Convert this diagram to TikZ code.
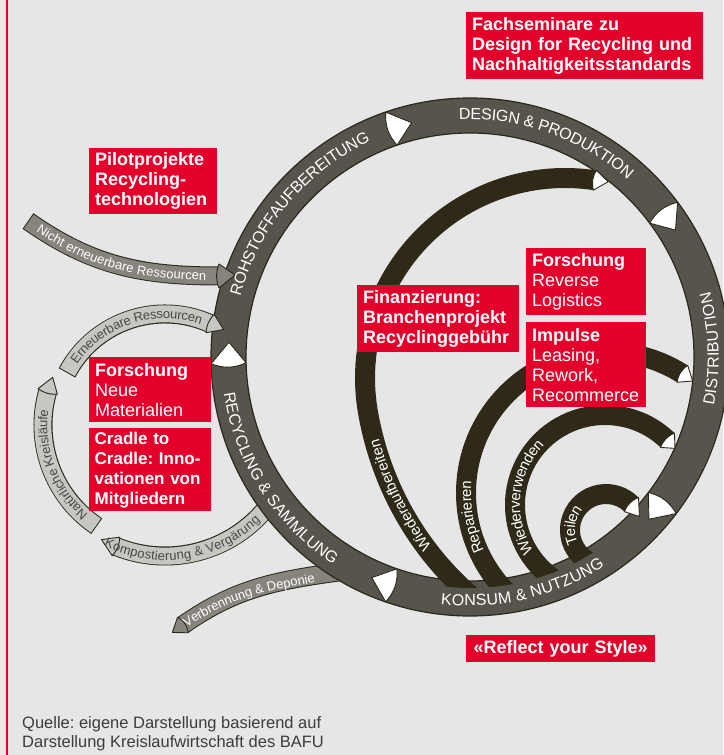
\documentclass[tikz,border=0pt]{standalone}
\usepackage{fontspec}
\setmainfont{Liberation Sans}
\usetikzlibrary{calc,decorations.text}

\definecolor{paper}{HTML}{E6E6E6}
\definecolor{brandred}{HTML}{E3002B}
\definecolor{ringgray}{HTML}{57544B}
\definecolor{ringedge}{HTML}{2C2819}
\definecolor{loopdark}{HTML}{2F2A17}
\definecolor{bandmid}{HTML}{86847C}
\definecolor{bandlight}{HTML}{C6C6C2}
\definecolor{darktext}{HTML}{4A4843}
\definecolor{sourcegray}{HTML}{3C3C3C}

\newcommand{\boxfont}{\fontsize{18}{20}\selectfont}
\newcommand{\ringfont}{\fontsize{16}{16}\selectfont}
\newcommand{\loopfont}{\fontsize{15}{15}\selectfont}
\newcommand{\bandfont}{\fontsize{13}{13}\selectfont}
\hyphenpenalty=10000
\frenchspacing

\begin{document}
\begin{tikzpicture}[x=1pt, y=1pt,
    redbox/.style={fill=brandred, text=white, anchor=north west, align=left,
      inner xsep=6pt, inner ysep=0pt, font=\boxfont},
    marker/.style={fill=white, draw=ringedge, line width=0.9pt, line join=round},
    innerloop/.style={draw=loopdark, line width=20pt},
    midband/.style={draw=bandmid, line width=17pt, shorten <=1pt, shorten >=1pt,
      preaction={draw=ringedge, line width=19pt, shorten <=0pt, shorten >=0pt}},
    lightband/.style={draw=bandlight, line width=17pt, shorten <=1pt, shorten >=1pt,
      preaction={draw=ringedge, line width=19pt, shorten <=0pt, shorten >=0pt}},
    midtip/.style={fill=bandmid, draw=ringedge, line width=0.9pt, line join=round},
    lighttip/.style={fill=bandlight, draw=ringedge, line width=0.9pt, line join=round},
    ringtext/.style={decorate, decoration={text along path, text align=center,
      text color=white, raise=-5.7pt, text={|\ringfont|#1}}},
    looptext/.style={decorate, decoration={text along path, text align=center,
      text color=white, raise=-5pt, text={|\loopfont|#1}}},
    bandtext/.style 2 args={decorate, decoration={text along path, text align=center,
      text color=#1, raise=-4.4pt, text={|\bandfont|#2}}}]

  % paper and left rule
  \fill[paper] (0,0) rectangle (723,755);
  \useasboundingbox (0,0) rectangle (723,755);
  \draw[brandred, line width=1.5pt] (7,0) -- (7,755);

  % centres of the circles
  \coordinate (hub) at (470,398);  % main cycle
  \coordinate (eco) at (165,330);  % natural cycles
  \coordinate (wa)  at (565,377);
  \coordinate (rep) at (607,262);
  \coordinate (wv)  at (605,250);
  \coordinate (tei) at (606,225);

  % side flows, under the ring
  \draw[midband] (345,184) to[out=188, in=35] (183,130);
  \filldraw[midtip, shift={(183,130)}] (305:9.5) to[bend right=25] (125:9.5) -- (215:13) -- cycle;
  \draw[midband] (28,534) to[out=-35, in=180] (219,479);
  \draw[lightband] ($(eco)+(322:131)$) arc[start angle=322, end angle=248, radius=131];
  \filldraw[lighttip, shift={(eco)}] (248:141) to[bend right=20] (248:121) -- (241:131) -- cycle;
  \draw[lightband] ($(eco)+(236:122)$) arc[start angle=236, end angle=164, radius=122];
  \filldraw[lighttip, shift={(eco)}] (164:132) to[bend right=20] (164:112) -- (157:122) -- cycle;
  \draw[lightband] ($(eco)+(152:111)$) arc[start angle=152, end angle=66, radius=111];

  % main cycle
  \filldraw[fill=ringgray, draw=ringedge, line width=1.2pt, even odd rule]
    (hub) circle[radius=259] (hub) circle[radius=224];
  \foreach \a in {109,36.7,-37.2,-109,181.5}
    \filldraw[marker, shift={(hub)}] (\a:259) to[bend right=22] (\a:224) -- ({\a-5}:241.5) -- cycle;

  % heads entering the ring
  \filldraw[midtip] (219,491) to[bend right=20] (219,467) -- (235,480) -- cycle;
  \filldraw[lighttip, shift={(eco)}] (66:121) to[bend right=20] (66:101) -- (58.5:112) -- cycle;

  % loops back from Konsum
  \begin{scope}
    \clip (hub) circle[radius=231];
    \draw[innerloop, shift={(wa)}] plot[domain=81.4:250, samples=90] (\x:{200+0.0116*max(\x-190,0)^2});
    \draw[innerloop] ($(rep)+(228:141)$) arc[start angle=228, end angle=57.7, radius=141];
    \draw[innerloop] ($(wv)+(240:90)$) arc[start angle=240, end angle=46, radius=90];
    \draw[innerloop] ($(tei)+(250:36)$) arc[start angle=250, end angle=45, radius=36];
  \end{scope}
  \filldraw[marker, shift={(wa)}] (81.4:210) to[bend right=22] (81.4:190) -- (77.6:201) -- cycle;
  \filldraw[marker, shift={(rep)}] (57.7:151) to[bend right=22] (57.7:131) -- (52.6:141) -- cycle;
  \filldraw[marker, shift={(wv)}] (46:100) to[bend right=22] (46:80) -- (39:90) -- cycle;
  \filldraw[marker, shift={(tei)}] (45:46) to[bend right=22] (45:26) -- (22:36) -- cycle;

  % ring labels
  \path[ringtext={ROHSTOFFAUFBEREITUNG}] ($(hub)+(185:243)$) arc[start angle=185, end angle=95, radius=243];
  \path[ringtext={DESIGN {\&} PRODUKTION}] ($(hub)+(115:243)$) arc[start angle=115, end angle=26, radius=243];
  \path[ringtext={DISTRIBUTION}] ($(hub)+(-40:243)$) arc[start angle=-40, end angle=44, radius=243];
  \path[ringtext={KONSUM {\&} NUTZUNG}] ($(hub)+(-120:243)$) arc[start angle=-120, end angle=-34, radius=243];
  \path[ringtext={RECYCLING {\&} SAMMLUNG}] ($(hub)+(170:243)$) arc[start angle=170, end angle=255, radius=243];

  % loop labels
  \path[looptext={Wiederaufbereiten}, shift={(wa)}] plot[domain=240:188, samples=60] (\x:{200+0.0116*max(\x-190,0)^2});
  \path[looptext={Reparieren}] ($(rep)+(215:141)$) arc[start angle=215, end angle=165, radius=141];
  \path[looptext={Wiederverwenden}] ($(wv)+(219:90)$) arc[start angle=219, end angle=129, radius=90];
  \path[looptext={Teilen}] ($(tei)+(215:36)$) arc[start angle=215, end angle=130, radius=36];

  % side flow labels
  \path[bandtext={white}{Nicht erneuerbare Ressourcen}] (28,534) to[out=-35, in=180] (219,479);
  \path[bandtext={darktext}{Erneuerbare Ressourcen}] ($(eco)+(160:111)$) arc[start angle=160, end angle=56, radius=111];
  \path[bandtext={darktext}{Natürliche Kreisläufe}] ($(eco)+(240:122)$) arc[start angle=240, end angle=162, radius=122];
  \path[bandtext={darktext}{Kompostierung {\&} Vergärung}] ($(eco)+(234:131)$) arc[start angle=234, end angle=324, radius=131];
  \path[bandtext={white}{Verbrennung {\&} Deponie}] (183,130) to[out=35, in=190] (316,177);

  % red boxes
  \node[redbox, text width=225pt, minimum height=67pt] (seminar) at (466,743)
    {\bfseries Fachseminare zu\\Design for Recycling und\\Nachhaltigkeitsstandards};
  \node[redbox, text width=116pt, minimum height=66pt] (pilot) at (89,607)
    {\bfseries Pilotprojekte\\Recycling-\\technologien};
  \node[redbox, text width=150pt, minimum height=67pt] (finance) at (357,470)
    {\bfseries Finanzierung:\\Branchenprojekt\\Recyclinggebühr};
  \node[redbox, text width=108pt, minimum height=67pt] (logistics) at (526,507)
    {\textbf{Forschung}\\Reverse\\Logistics};
  \node[redbox, text width=108pt, minimum height=85pt] (impulse) at (526,433)
    {\textbf{Impulse}\\Leasing,\\Rework,\\Recommerce};
  \node[redbox, text width=110pt, minimum height=65pt] (materials) at (89,398)
    {\textbf{Forschung}\\Neue\\Materialien};
  \node[redbox, text width=111pt, inner xsep=5.5pt, minimum height=83pt,
    font=\fontsize{17}{20}\selectfont] (cradle) at (89,327)
    {\bfseries Cradle to\\Cradle: Inno-\\vationen von\\Mitgliedern};
  \node[redbox, align=center, text width=177pt, minimum height=27pt] (motto) at (466,120)
    {\bfseries «Reflect your Style»};

  % source line
  \node[anchor=north west, align=left, inner sep=0pt, text=sourcegray,
    font=\fontsize{16.5}{19}\selectfont] (source) at (22,39)
    {Quelle: eigene Darstellung basierend auf\\Darstellung Kreislaufwirtschaft des BAFU};
\end{tikzpicture}
\end{document}
